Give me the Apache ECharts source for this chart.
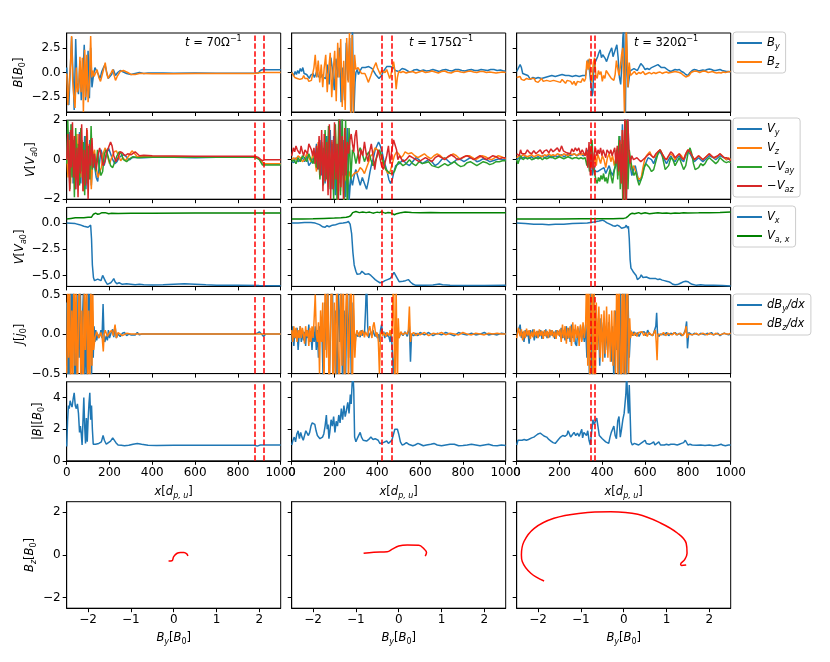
<!DOCTYPE html>
<html lang="en">
<head>
<meta charset="UTF-8">
<title>Shock profiles</title>
<script src="https://cdn.jsdelivr.net/npm/echarts@6/dist/echarts.min.js"></script>
<style>body{margin:0;background:#fff}</style>
</head>
<body>
<div id="main" style="width:830px;height:662px"></div>
<script>
// ---- data ----
var timeLabels = ['70', '175', '320'];
var dashX = [[880, 920], [420, 466], [348, 367]];

// t = 70
var by1 = [[0,0.5],[5,0.4],[10,-3.3],[18,-3.5],[23,3.6],[30,-0.5],[35,-3.8],[42,3.4],[48,-1],[55,-2.2],[62,1.2],[68,-2.8],[75,-0.5],[82,2.8],[88,-2.8],[94,-1],[100,2.2],[106,-2.6],[112,2.5],[118,-1.5],[125,-0.3],[132,0.5],[140,0.4],[148,-0.2],[156,-0.6],[164,0.1],[172,0.5],[179,0.8],[186,0.1],[194,-0.6],[202,-0.8],[210,-0.2],[218,0.3],[228,-0.3],[238,0.0],[250,0.2],[265,0.05],[280,-0.1],[300,-0.2],[320,-0.1],[340,0.0],[360,-0.1],[380,-0.05],[400,-0.05],[450,-0.05],[500,-0.08],[600,-0.06],[700,-0.07],[800,-0.07],[880,-0.06],[895,-0.05],[905,0.2],[915,0.3],[940,0.28],[1000,0.28]];
var bz1 = [[0,-0.1],[5,-3.3],[12,-3.2],[18,1.0],[23,3.7],[28,-0.8],[33,-2.3],[39,-3.6],[45,0.5],[50,-2],[56,-1.5],[62,1.6],[67,-2.0],[73,1.5],[78,-4],[84,2.3],[89,-2.5],[94,1.8],[100,-3],[106,-1],[112,3.7],[117,-0.5],[122,0.2],[128,-0.4],[135,-0.6],[142,0.3],[150,-0.5],[158,-0.9],[165,-0.3],[172,0.3],[180,1.0],[187,-0.1],[193,-0.6],[200,-0.4],[208,0.0],[215,0.3],[222,-0.3],[228,-0.8],[236,-0.4],[250,0.1],[265,0.2],[285,0.0],[300,-0.2],[320,-0.2],[340,-0.1],[360,-0.1],[400,-0.12],[500,-0.12],[600,-0.1],[700,-0.1],[880,-0.1],[900,-0.02],[920,0.0],[1000,0.0]];
var vy1 = [[0,-0.1],[5,1.2],[10,-0.3],[15,1.4],[20,-0.8],[25,1.8],[30,-1.2],[36,1.0],[42,-1.5],[48,0.8],[55,-1.0],[60,1.4],[66,-1.2],[72,0.6],[78,-0.8],[84,1.2],[90,-1.5],[96,0.5],[102,-0.8],[108,1.0],[115,-1.3],[122,0.3],[130,-0.3],[138,-0.9],[145,-1.1],[152,-0.3],[160,0.5],[168,0.2],[175,-0.3],[185,0.2],[195,0.6],[205,0.3],[215,0.0],[225,-0.2],[235,-0.1],[245,0.1],[255,0.2],[265,0.25],[275,0.2],[285,0.05],[295,0.0],[305,0.1],[320,0.12],[340,0.1],[360,0.1],[400,0.12],[500,0.12],[600,0.1],[700,0.12],[800,0.12],[880,0.12],[900,0.05],[920,-0.2],[1000,-0.22]];
var vz1 = [[0,0.2],[6,-0.9],[12,1.0],[18,-1.2],[24,0.7],[30,-0.5],[36,1.2],[42,-0.7],[48,1.3],[54,-1.4],[60,0.6],[66,-0.9],[72,1.0],[78,-1.6],[84,0.4],[90,-0.6],[96,1.5],[102,-1.0],[108,0.6],[115,-1.5],[122,0.2],[130,0.5],[138,-0.4],[146,-0.9],[155,-1.0],[162,-0.4],[170,0.3],[180,0.6],[190,0.2],[200,-0.2],[210,0.1],[222,0.4],[232,0.45],[242,0.2],[252,-0.05],[262,0.1],[275,-0.05],[290,0.2],[305,0.45],[318,0.3],[330,0.15],[360,0.15],[400,0.15],[880,0.15],[905,0.0],[920,-0.2],[1000,-0.2]];
var vay1 = [[0,-0.2],[5,2.0],[10,0.3],[15,-1.5],[20,1.8],[25,-0.9],[30,1.0],[36,-1.9],[42,1.6],[48,-1.0],[54,0.8],[60,-1.3],[66,1.6],[72,-0.6],[78,0.9],[84,-1.8],[90,1.2],[96,-1.2],[102,0.7],[108,-1.0],[114,1.7],[120,-0.5],[128,0.3],[136,-0.6],[144,0.5],[152,-0.4],[160,-0.8],[168,-0.6],[176,0.3],[185,0.5],[195,0.1],[205,-0.3],[215,-0.4],[225,-0.1],[235,0.2],[245,0.4],[255,0.3],[265,0.0],[280,-0.1],[295,0.05],[310,0.15],[330,0.1],[360,0.12],[400,0.13],[880,0.13],[900,0.0],[915,-0.27],[1000,-0.27]];
var vaz1 = [[0,0.0],[5,1.3],[10,1.4],[14,-1.6],[18,1.5],[22,-0.4],[27,1.9],[32,-0.9],[37,1.2],[42,-1.5],[48,0.6],[53,-1.9],[58,1.3],[64,-0.7],[70,1.8],[76,-1.6],[82,0.5],[88,-1.3],[94,1.6],[100,-2.0],[106,0.8],[112,-0.3],[118,1.1],[124,-0.4],[130,0.3],[138,-0.5],[146,0.2],[154,0.6],[162,0.2],[170,-0.3],[178,-0.1],[186,0.4],[195,0.6],[205,0.9],[212,0.7],[220,0.2],[230,-0.1],[240,0.1],[250,0.4],[260,0.35],[272,0.2],[285,0.3],[300,0.25],[320,0.4],[340,0.2],[360,0.22],[400,0.2],[600,0.18],[880,0.18],[895,0.12],[905,0.02],[915,-0.05],[925,0.0],[1000,0.0]];
var vx1 = [[0,0.0],[20,-0.02],[40,-0.05],[60,-0.15],[80,-0.3],[100,-0.4],[108,-0.45],[112,-0.2],[116,-1.5],[120,-4.0],[125,-5.2],[130,-5.5],[138,-5.5],[145,-5.35],[152,-5.25],[160,-5.5],[168,-5.0],[175,-4.95],[182,-5.6],[190,-5.85],[198,-5.75],[206,-5.7],[214,-5.5],[220,-5.3],[226,-5.6],[234,-5.8],[245,-5.7],[260,-5.85],[280,-5.8],[300,-5.85],[320,-5.9],[340,-5.85],[360,-5.9],[400,-5.92],[450,-5.9],[500,-5.85],[550,-5.8],[600,-5.85],[650,-5.9],[700,-5.93],[800,-5.95],[900,-5.97],[1000,-5.98]];
var vax1 = [[0,0.4],[20,0.45],[40,0.5],[60,0.5],[80,0.5],[100,0.55],[115,0.55],[125,0.85],[135,0.95],[145,0.85],[155,0.9],[165,1.0],[172,0.9],[180,1.0],[188,0.85],[196,0.9],[210,0.95],[240,0.92],[300,0.95],[400,0.95],[600,0.97],[800,0.96],[1000,0.96]];
var dby1 = [[0,0.4],[6,-0.6],[10,0.2],[15,-0.8],[21,0.7],[26,-0.2],[31,0.8],[37,-0.7],[42,0.1],[47,-0.9],[53,0.5],[58,-0.3],[63,0.8],[69,-0.7],[74,0.2],[80,0.7],[85,-0.6],[90,0.1],[96,-0.8],[101,0.6],[106,-0.2],[111,0.9],[116,-0.6],[120,0.3],[124,-0.3],[128,0.1],[132,-0.1],[136,0.05],[140,-0.08],[145,0.0],[150,-0.05],[155,-0.02],[160,0.05],[165,-0.05],[170,0.38],[174,0.0],[178,-0.1],[185,-0.02],[190,-0.08],[195,0.05],[200,-0.05],[208,0.02],[215,0.06],[220,-0.04],[226,0.1],[232,-0.05],[240,0.0],[250,-0.03],[260,0.01],[270,0.02],[280,-0.02],[290,0.0],[300,-0.01],[320,-0.01],[330,0.02],[340,-0.01],[350,0.0],[400,0.0],[500,0.0],[880,0.0],[890,0.01],[900,0.03],[910,0.0],[920,-0.03],[930,0.0],[1000,0.0]];
var dbz1 = [[0,-0.5],[5,0.7],[9,-0.3],[14,0.6],[19,-0.9],[24,0.3],[29,-0.6],[34,0.9],[39,-0.4],[44,0.6],[50,-0.9],[55,0.2],[60,0.8],[66,-0.6],[71,0.3],[77,-0.9],[82,0.6],[87,-0.2],[93,0.9],[98,-0.7],[103,0.3],[108,-0.8],[113,0.7],[118,-0.4],[122,0.5],[126,-0.2],[132,-0.05],[140,0.03],[150,-0.05],[160,0.02],[166,-0.05],[171,-0.22],[175,0.0],[180,0.05],[190,-0.03],[200,0.02],[210,0.05],[218,-0.02],[226,0.12],[232,-0.05],[240,0.02],[260,-0.02],[280,0.01],[300,0.0],[340,0.0],[1000,0.0]];
var absb1 = [[0,0.9],[4,2.5],[8,3.5],[12,3.3],[16,3.8],[20,3.6],[25,3.4],[30,3.9],[35,4.3],[40,3.5],[45,3.3],[50,3.6],[55,3.0],[60,1.8],[64,2.2],[68,1.7],[72,1.0],[76,2.5],[80,4.0],[84,2.2],[88,1.1],[92,2.7],[96,1.2],[100,2.6],[104,3.6],[108,4.3],[112,2.6],[116,3.5],[120,2.0],[124,1.05],[135,1.05],[150,1.1],[162,1.2],[170,1.6],[176,1.3],[185,1.05],[195,1.15],[205,1.25],[215,1.45],[222,1.5],[230,1.15],[240,1.0],[255,0.98],[270,0.95],[290,0.98],[310,1.05],[330,1.1],[350,1.05],[380,0.98],[420,0.97],[500,0.98],[600,0.98],[700,0.99],[880,0.98],[890,0.93],[905,1.0],[1000,1.0]];
var hodo1 = [[-0.12,-0.28],[-0.04,-0.27],[0.0,-0.08],[0.08,0.08],[0.16,0.12],[0.24,0.12],[0.31,0.04],[0.33,-0.05]];

// t = 175
var by2 = [[0,0.0],[10,-0.3],[16,0.1],[22,-0.2],[28,0.2],[34,-0.1],[40,0.4],[46,0.1],[52,0.5],[58,-0.1],[64,-0.3],[70,-0.2],[76,-0.4],[82,-0.6],[88,-0.3],[94,-0.4],[100,-0.1],[106,-0.5],[112,-0.2],[118,0.2],[124,-0.4],[130,-0.3],[136,-0.5],[142,-0.2],[148,-0.5],[154,-0.3],[160,-0.6],[167,0.8],[175,-1.2],[183,1.5],[191,0.2],[199,-1.8],[207,1.4],[215,-0.5],[223,2.5],[231,-3.0],[239,0.5],[247,-2.8],[255,3.0],[263,-0.8],[271,3.5],[278,-4.5],[284,4.5],[290,-4.5],[296,-1.0],[300,0.0],[306,0.3],[312,-0.2],[320,0.2],[328,0.5],[336,0.3],[344,0.5],[352,0.4],[360,0.6],[368,0.7],[376,0.4],[384,0.2],[392,-0.2],[400,-0.4],[408,-0.6],[414,-0.4],[420,-0.3],[428,0.1],[436,0.3],[444,0.6],[452,0.4],[460,0.6],[468,0.5],[476,0.5],[484,0.2],[492,0.3],[500,0.1],[508,0.1],[516,0.4],[524,0.5],[532,0.3],[540,0.2],[550,0.05],[560,0.1],[570,0.25],[585,0.3],[600,0.15],[615,0.25],[630,0.15],[645,0.2],[660,0.3],[675,0.2],[690,0.1],[705,0.25],[720,0.3],[735,0.2],[750,0.15],[765,0.3],[780,0.3],[795,0.2],[810,0.15],[825,0.25],[840,0.3],[855,0.2],[870,0.2],[885,0.3],[900,0.25],[915,0.2],[930,0.3],[945,0.3],[960,0.2],[975,0.25],[990,0.15],[1000,0.15]];
var bz2 = [[0,0.0],[8,-0.2],[14,-0.5],[20,-0.3],[26,-0.6],[32,-0.4],[38,-0.7],[44,-0.5],[50,-0.6],[56,-0.3],[62,-0.6],[68,-0.8],[74,-0.6],[80,-0.9],[86,-0.7],[92,-0.8],[98,-0.9],[104,0.5],[110,1.8],[117,-0.5],[124,1.2],[131,-1.0],[138,0.8],[145,-1.5],[152,0.5],[159,1.8],[166,-2.0],[173,0.4],[180,2.0],[187,-2.5],[194,0.2],[201,2.2],[208,-2.9],[215,3.0],[222,-0.5],[229,3.4],[236,-3.5],[243,1.2],[250,-3.8],[257,3.5],[264,-1.0],[270,4.0],[276,-4.5],[282,3.8],[288,-4.5],[294,1.8],[300,0.3],[310,0.5],[318,0.2],[326,-0.1],[334,-0.3],[342,-0.1],[350,-0.5],[358,-1.0],[364,-0.8],[370,-0.3],[378,0.2],[386,0.6],[394,1.0],[400,0.5],[408,0.1],[414,-0.2],[420,0.2],[428,0.3],[436,0.0],[444,0.3],[452,-0.2],[458,-0.6],[464,-0.2],[470,0.5],[476,1.1],[482,0.2],[488,-1.7],[494,-0.5],[500,0.1],[510,0.0],[520,0.1],[535,-0.05],[550,0.05],[565,0.1],[580,-0.05],[595,0.05],[610,0.15],[625,0.0],[640,0.05],[655,0.15],[670,0.05],[685,-0.05],[700,0.1],[715,0.15],[730,0.0],[745,-0.05],[760,0.1],[775,0.15],[790,0.05],[805,0.0],[820,0.1],[835,0.15],[850,0.05],[865,0.0],[880,0.1],[895,0.1],[910,0.0],[925,0.05],[940,0.0],[955,-0.05],[970,0.0],[985,0.05],[1000,0.0]];
var vy2 = [[0,-0.1],[10,-0.15],[20,0.1],[30,-0.1],[40,0.0],[50,0.1],[60,-0.1],[70,0.2],[80,-0.3],[90,-0.15],[100,0.1],[108,-0.2],[116,0.8],[124,-0.5],[132,1.0],[140,-0.8],[148,0.6],[156,-1.2],[164,1.2],[172,-0.8],[180,1.5],[188,-1.5],[196,1.2],[204,-1.8],[212,0.8],[220,-1.2],[228,2.0],[236,-0.8],[244,1.0],[252,-1.9],[260,1.6],[268,-2.1],[276,-0.9],[284,-1.3],[292,-0.8],[300,-0.5],[310,-0.9],[320,-1.3],[330,-0.9],[340,-1.2],[350,-1.5],[358,-1.1],[366,-0.6],[374,-0.2],[382,0.1],[390,0.5],[398,0.5],[406,0.9],[414,0.7],[422,0.4],[430,0.0],[438,-0.3],[446,-0.6],[454,-1.0],[462,-1.2],[470,-1.0],[478,-0.6],[486,-0.3],[494,-0.4],[502,-0.2],[510,-0.1],[520,0.0],[535,-0.2],[550,-0.3],[565,-0.1],[580,0.1],[595,0.0],[610,-0.2],[625,-0.1],[640,0.0],[655,-0.1],[670,-0.3],[685,-0.2],[700,0.0],[715,0.1],[730,-0.05],[745,-0.2],[760,-0.1],[775,0.05],[790,0.0],[805,-0.1],[820,0.0],[835,0.1],[850,0.05],[865,-0.1],[880,-0.05],[895,0.05],[910,0.0],[925,-0.1],[940,-0.05],[955,0.0],[970,0.05],[985,0.0],[1000,0.0]];
var vz2 = [[0,0.0],[10,0.1],[20,0.0],[30,0.2],[40,0.1],[50,-0.1],[60,0.0],[70,0.3],[80,0.1],[90,-0.1],[100,0.3],[108,0.0],[116,-0.6],[124,0.9],[132,-0.4],[140,0.7],[148,-1.0],[156,0.5],[164,-0.7],[172,1.1],[180,-0.8],[188,0.9],[196,-1.4],[204,1.5],[212,-0.9],[220,1.3],[228,-1.6],[236,0.7],[244,-1.2],[252,-0.8],[260,-1.3],[268,-0.6],[276,-0.9],[284,-0.8],[292,-0.7],[300,-0.8],[310,-0.6],[320,-0.4],[330,-0.5],[340,-0.7],[350,-0.4],[360,-0.1],[370,0.2],[380,0.3],[390,0.6],[400,0.5],[410,0.4],[420,0.1],[430,-0.3],[440,-0.5],[450,-0.7],[460,-0.6],[470,-0.2],[480,0.2],[490,0.4],[500,0.3],[510,0.1],[520,0.2],[530,0.4],[545,0.3],[560,0.35],[575,0.2],[590,0.1],[605,0.2],[620,0.3],[635,0.15],[650,0.05],[665,0.2],[680,0.3],[695,0.2],[710,0.05],[725,0.1],[740,0.2],[755,0.3],[770,0.2],[785,0.05],[800,0.1],[815,0.2],[830,0.2],[845,0.1],[860,0.0],[875,0.1],[890,0.2],[905,0.15],[920,0.05],[935,0.0],[950,0.1],[965,0.2],[980,0.15],[1000,0.05]];
var vay2 = [[0,-0.1],[10,0.0],[20,-0.2],[30,0.1],[40,-0.1],[50,0.2],[60,0.1],[70,-0.1],[80,0.3],[90,0.0],[100,-0.2],[108,0.3],[116,-0.4],[124,0.6],[132,-1.0],[140,0.9],[148,-1.3],[156,1.5],[164,-1.0],[172,1.7],[180,-1.5],[188,0.8],[196,-2.0],[204,1.8],[212,-2.2],[220,2.2],[228,-1.8],[236,2.4],[244,-2.5],[252,2.0],[260,-2.5],[268,1.6],[276,-1.0],[284,0.5],[292,0.3],[300,-0.2],[310,0.3],[320,0.6],[330,0.3],[340,-0.1],[350,0.2],[360,0.4],[370,0.0],[380,-0.3],[390,-0.1],[400,0.2],[410,0.5],[420,0.2],[430,-0.2],[440,-0.5],[450,-0.6],[460,-0.7],[470,-0.7],[480,-0.6],[490,-0.3],[500,-0.1],[510,-0.2],[520,-0.3],[535,-0.2],[550,0.0],[565,-0.2],[580,-0.3],[595,-0.1],[610,-0.2],[625,-0.15],[640,-0.1],[655,-0.3],[670,-0.35],[685,-0.4],[700,-0.3],[715,-0.2],[730,-0.3],[745,-0.2],[760,-0.1],[775,-0.25],[790,-0.35],[805,-0.3],[820,-0.15],[835,-0.1],[850,-0.2],[865,-0.3],[880,-0.2],[895,-0.1],[910,-0.15],[925,-0.25],[940,-0.2],[955,-0.1],[970,-0.1],[985,-0.05],[1000,-0.05]];
var vaz2 = [[0,0.2],[8,0.6],[14,0.4],[20,0.7],[26,0.5],[32,0.6],[38,0.3],[44,0.7],[50,0.4],[56,0.2],[62,0.5],[68,0.6],[74,0.3],[80,0.8],[86,0.9],[92,0.5],[98,0.2],[104,0.6],[110,-0.2],[116,0.7],[122,-0.5],[128,1.2],[134,-0.8],[140,1.5],[146,-1.6],[152,1.3],[158,-1.1],[164,0.9],[170,-1.8],[176,1.8],[182,-2.0],[188,1.0],[194,-1.5],[200,1.9],[206,-1.0],[212,0.8],[218,-2.2],[224,2.2],[230,-1.4],[236,1.2],[242,-2.0],[248,1.6],[254,-0.8],[260,0.9],[266,0.3],[272,1.0],[278,1.3],[284,0.8],[290,0.4],[296,1.2],[302,1.5],[308,0.6],[316,-0.2],[324,0.5],[332,0.2],[340,0.9],[348,0.3],[356,-0.1],[364,0.4],[372,0.8],[380,0.2],[388,-0.5],[396,0.1],[404,0.5],[412,0.1],[420,-0.3],[428,-0.5],[436,-0.4],[444,0.2],[452,0.7],[460,-0.2],[468,0.5],[476,1.0],[484,1.1],[490,0.5],[496,0.0],[504,0.2],[512,0.1],[520,-0.1],[535,0.0],[550,0.2],[565,0.1],[580,0.0],[595,-0.1],[610,0.0],[625,0.1],[640,0.0],[655,-0.1],[670,0.1],[685,0.2],[700,0.1],[715,0.0],[730,0.15],[745,0.25],[760,0.15],[775,0.0],[790,0.05],[805,0.15],[820,0.2],[835,0.1],[850,0.0],[865,0.1],[880,0.2],[895,0.1],[910,0.0],[925,0.1],[940,0.2],[955,0.15],[970,0.05],[985,0.1],[1000,0.1]];
var vx2 = [[0,0.0],[30,0.0],[60,0.05],[90,0.05],[110,0.0],[130,-0.15],[145,-0.35],[155,-0.4],[165,-0.25],[175,-0.35],[190,-0.2],[205,-0.15],[220,-0.05],[240,0.0],[255,0.05],[265,0.15],[273,-0.1],[280,-1.0],[286,-2.8],[292,-4.0],[300,-4.6],[306,-4.9],[312,-5.0],[320,-4.85],[328,-4.6],[336,-4.7],[344,-4.9],[352,-5.0],[360,-4.85],[370,-5.0],[380,-5.2],[390,-5.4],[400,-5.55],[412,-5.7],[424,-5.65],[436,-5.5],[448,-5.4],[460,-5.3],[470,-5.0],[478,-4.7],[486,-4.85],[494,-5.3],[502,-5.6],[510,-5.7],[520,-5.55],[532,-5.5],[545,-5.4],[556,-5.65],[568,-5.85],[580,-5.95],[620,-5.95],[660,-5.92],[690,-5.82],[705,-5.9],[740,-5.95],[800,-5.97],[900,-5.96],[1000,-5.95]];
var vax2 = [[0,0.4],[50,0.4],[100,0.42],[150,0.45],[200,0.48],[230,0.5],[255,0.55],[265,0.6],[275,0.7],[285,1.0],[292,1.15],[300,1.1],[308,0.95],[316,1.0],[324,0.9],[332,1.05],[340,1.15],[348,1.0],[356,0.95],[364,1.05],[372,1.0],[380,0.95],[390,1.0],[400,1.05],[410,1.0],[420,1.08],[430,1.0],[440,0.95],[450,1.02],[460,1.0],[470,0.9],[480,0.8],[490,0.9],[500,0.95],[510,1.0],[530,1.05],[560,1.02],[600,1.0],[650,1.02],[700,0.98],[800,1.0],[900,1.0],[1000,1.0]];
var dby2 = [[0,-0.1],[5,0.1],[10,-0.15],[15,0.05],[20,-0.05],[25,0.08],[30,-0.2],[35,0.0],[40,0.1],[45,-0.1],[50,0.05],[55,-0.08],[60,0.03],[65,-0.15],[70,0.05],[75,-0.05],[80,0.12],[85,-0.1],[90,0.0],[95,-0.2],[100,0.05],[105,-0.1],[110,0.1],[115,-0.2],[120,0.05],[125,-0.3],[130,0.1],[135,-0.05],[140,0.2],[147,-0.6],[154,0.4],[161,-0.2],[168,0.8],[175,-0.7],[182,0.1],[189,0.9],[196,-0.5],[203,0.3],[210,-0.9],[217,0.6],[224,-0.1],[231,0.8],[238,-0.8],[245,0.3],[252,-0.6],[259,0.9],[266,-0.3],[273,0.5],[280,-0.9],[287,0.4],[294,-0.2],[300,0.0],[305,0.02],[310,-0.03],[315,0.02],[320,-0.04],[325,0.05],[330,-0.02],[335,0.03],[340,0.0],[345,0.3],[350,0.7],[355,0.1],[360,-0.05],[365,0.0],[370,0.03],[375,-0.02],[380,0.05],[385,0.0],[390,-0.03],[395,0.02],[400,-0.05],[405,0.0],[410,-0.1],[415,0.05],[420,0.12],[425,0.0],[430,0.03],[435,-0.05],[440,0.02],[445,-0.03],[450,0.0],[455,-0.04],[460,-0.1],[465,0.02],[470,-0.2],[475,-0.5],[480,-0.3],[485,0.1],[490,-0.1],[495,0.05],[500,-0.05],[510,0.02],[520,-0.02],[530,0.03],[540,-0.03],[550,0.1],[555,-0.35],[560,0.0],[570,-0.02],[580,0.01],[590,-0.02],[600,0.02],[620,-0.01],[640,0.02],[660,-0.02],[680,0.01],[700,-0.01],[720,0.02],[740,0.0],[760,-0.02],[780,0.02],[800,0.0],[820,-0.01],[840,0.01],[860,-0.01],[880,0.0],[900,0.02],[920,-0.01],[940,0.0],[960,-0.01],[980,0.01],[1000,0.0]];
var dbz2 = [[0,0.05],[5,-0.1],[10,0.1],[15,-0.05],[20,0.08],[25,-0.1],[30,0.05],[35,-0.05],[40,0.1],[45,-0.05],[50,0.08],[55,0.0],[60,-0.12],[65,0.1],[70,-0.03],[75,0.05],[80,-0.15],[85,0.08],[90,-0.1],[95,0.1],[100,-0.05],[105,0.2],[110,0.5],[115,0.0],[120,-0.1],[125,0.15],[130,-0.5],[135,0.3],[140,-0.1],[145,0.4],[151,-0.7],[157,0.9],[163,-0.3],[169,0.6],[175,-0.9],[181,0.2],[187,0.9],[193,-0.8],[199,0.4],[205,-0.6],[211,0.9],[217,-0.2],[223,-0.9],[229,0.7],[235,-0.4],[241,0.9],[247,-0.9],[253,0.3],[259,0.8],[265,-0.7],[271,0.2],[277,0.9],[283,-0.9],[289,0.5],[295,-0.3],[300,-0.02],[305,0.05],[310,0.0],[315,-0.03],[320,0.04],[325,-0.02],[330,0.05],[335,0.02],[340,-0.04],[345,0.03],[350,0.0],[355,-0.03],[360,0.05],[365,0.1],[370,0.02],[375,-0.05],[380,0.1],[385,0.15],[390,0.05],[395,-0.03],[400,0.02],[405,-0.1],[410,-0.5],[415,0.0],[420,0.05],[425,-0.02],[430,0.02],[435,0.0],[440,-0.03],[445,0.02],[450,0.0],[455,-0.02],[460,0.05],[465,-0.03],[470,0.1],[476,0.8],[482,-0.8],[488,0.6],[494,-0.7],[498,0.2],[502,-0.05],[510,0.03],[520,-0.01],[530,0.02],[540,0.0],[545,0.05],[550,0.35],[555,-0.1],[560,0.0],[570,0.02],[580,-0.02],[590,0.01],[600,-0.01],[620,0.02],[640,-0.02],[660,0.01],[680,0.0],[700,0.02],[720,-0.01],[740,0.01],[760,0.0],[780,-0.01],[800,0.02],[820,0.0],[840,-0.01],[860,0.01],[880,0.0],[900,-0.01],[920,0.01],[940,0.0],[960,0.01],[980,0.0],[1000,0.0]];
var absb2 = [[0,1.0],[6,1.3],[12,1.5],[18,1.2],[24,1.7],[30,1.9],[36,1.4],[42,1.8],[48,1.5],[54,1.3],[60,1.6],[66,1.9],[72,2.0],[78,1.6],[84,1.8],[90,2.2],[96,2.4],[102,2.5],[108,2.3],[114,1.9],[120,1.6],[126,1.5],[132,1.4],[138,1.3],[144,1.5],[150,1.7],[156,2.2],[162,2.9],[166,2.0],[170,2.3],[174,1.4],[178,1.8],[184,2.6],[190,2.2],[196,2.8],[202,1.8],[208,2.5],[214,2.2],[220,2.9],[226,2.4],[232,3.3],[238,2.6],[244,3.5],[250,2.8],[256,3.2],[262,3.7],[268,3.0],[274,4.2],[278,3.6],[282,4.8],[286,5.5],[290,4.5],[294,1.5],[300,1.2],[306,1.4],[312,1.5],[320,1.8],[326,1.5],[334,1.3],[342,1.2],[350,1.25],[360,1.35],[370,1.5],[380,1.35],[390,1.4],[396,1.5],[404,1.3],[412,1.1],[420,1.0],[428,1.15],[436,1.2],[444,1.25],[452,1.1],[460,1.2],[468,1.3],[476,1.4],[482,2.0],[488,1.9],[494,2.0],[500,1.7],[508,1.2],[516,1.0],[526,1.05],[536,1.15],[546,1.05],[556,1.0],[566,0.95],[576,1.0],[590,1.1],[600,1.05],[615,0.95],[630,1.0],[650,1.05],[665,1.1],[680,1.0],[700,0.95],[720,1.0],[740,1.05],[760,1.05],[780,0.95],[800,0.97],[820,1.0],[840,1.05],[860,1.0],[880,0.95],[900,1.0],[920,1.05],[940,0.97],[960,0.95],[980,1.0],[1000,0.97]];
var hodo2 = [[-0.82,0.08],[-0.58,0.13],[-0.27,0.15],[-0.15,0.27],[0.0,0.42],[0.2,0.47],[0.47,0.45],[0.58,0.31],[0.65,0.11],[0.62,-0.05]];

// t = 320
var by3 = [[0,0.1],[8,0.2],[16,0.8],[22,0.5],[28,-0.1],[34,-0.3],[40,-0.2],[46,-0.4],[52,-0.3],[58,-0.5],[64,-0.7],[70,-0.8],[76,-0.5],[82,-0.4],[88,-0.6],[94,-0.4],[100,-0.5],[108,-0.3],[116,-0.6],[124,-0.4],[132,-0.5],[140,-0.6],[148,-0.4],[156,-0.5],[164,-0.3],[172,-0.5],[180,-0.4],[188,-0.6],[196,-0.3],[204,-0.4],[212,-0.2],[220,-0.4],[228,-0.3],[236,-0.1],[244,-0.3],[252,-0.2],[260,-0.4],[268,-0.2],[276,-0.3],[284,-0.3],[292,-0.4],[300,-0.2],[308,-0.3],[316,-0.2],[322,-0.3],[328,0.5],[334,1.3],[340,0.2],[346,-1.0],[352,-2.4],[356,-2.0],[360,0.3],[366,1.0],[372,0.8],[378,1.6],[384,2.0],[390,2.3],[396,1.5],[402,1.8],[408,2.0],[414,1.4],[420,1.1],[426,1.5],[432,1.9],[438,2.2],[444,2.5],[450,1.6],[456,2.0],[462,2.4],[468,2.8],[474,1.5],[480,-0.5],[486,-1.2],[492,1.0],[496,3.5],[500,4.5],[504,-1.0],[508,-4.5],[512,4.5],[516,1.0],[520,-1.5],[526,-0.5],[532,0.2],[540,0.3],[548,0.4],[556,0.5],[564,0.2],[572,0.4],[580,0.9],[586,1.0],[592,0.6],[600,0.3],[610,0.4],[620,0.3],[630,0.5],[640,0.6],[650,0.7],[660,0.8],[668,0.6],[676,0.5],[684,0.55],[692,0.5],[700,0.3],[710,0.2],[720,0.1],[730,0.2],[740,0.3],[750,0.25],[760,0.3],[770,0.1],[780,0.0],[790,-0.2],[800,-0.3],[810,0.0],[820,0.2],[830,0.3],[840,0.25],[850,0.15],[860,0.2],[870,0.25],[880,0.2],[890,0.3],[900,0.35],[910,0.3],[920,0.2],[930,0.2],[940,0.25],[950,0.3],[960,0.2],[970,0.15],[980,0.1],[990,0.1],[1000,0.05]];
var bz3 = [[0,-0.5],[8,-0.6],[16,-0.4],[22,-0.7],[28,-0.5],[34,-0.8],[40,-0.9],[46,-0.6],[52,-0.5],[58,-0.7],[64,-0.5],[70,-0.6],[76,-0.8],[82,-0.6],[88,-0.9],[94,-0.7],[100,-1.0],[108,-0.8],[116,-0.6],[124,-0.9],[132,-0.7],[140,-0.8],[148,-0.6],[156,-0.9],[164,-0.7],[172,-0.8],[180,-0.6],[188,-0.9],[196,-0.8],[204,-1.0],[212,-0.7],[220,-0.9],[228,-1.1],[236,-0.8],[244,-1.0],[252,-0.9],[260,-1.2],[268,-0.9],[276,-1.3],[284,-0.9],[292,-0.8],[300,-1.0],[308,-0.6],[316,-0.9],[322,-0.6],[328,1.2],[334,0.3],[340,1.4],[346,-0.5],[352,-1.0],[358,1.0],[364,1.5],[370,-0.3],[376,-0.6],[382,0.2],[388,-0.2],[394,0.1],[400,-0.9],[406,-0.3],[412,-0.6],[418,0.2],[424,0.4],[430,-0.2],[436,0.0],[442,-0.6],[448,-0.4],[454,-0.8],[460,-0.2],[466,1.2],[472,0.4],[478,-0.3],[484,0.5],[490,1.8],[496,2.5],[500,-1.0],[504,-4.5],[508,0.5],[512,4.5],[516,2.0],[520,-1.5],[526,1.0],[532,-0.3],[540,-0.1],[550,0.1],[560,-0.2],[570,0.0],[580,-0.1],[590,0.1],[600,-0.2],[610,-0.1],[620,0.0],[630,-0.15],[640,0.0],[650,-0.1],[660,0.0],[670,0.05],[680,-0.1],[690,0.0],[700,0.05],[710,-0.05],[720,0.0],[730,0.05],[740,0.1],[750,0.05],[760,0.0],[770,-0.1],[780,-0.3],[790,-0.45],[798,-0.6],[806,-0.3],[815,0.0],[825,0.1],[835,0.15],[845,0.1],[855,0.0],[865,0.1],[875,0.15],[885,0.1],[895,0.0],[905,0.05],[915,0.1],[925,0.0],[935,-0.05],[945,0.0],[955,-0.05],[965,0.05],[975,0.0],[985,0.05],[1000,0.1]];
var vy3 = [[0,0.0],[10,0.1],[20,0.05],[30,0.1],[40,0.15],[50,0.05],[60,0.1],[70,0.15],[80,0.05],[90,0.1],[100,0.15],[110,0.1],[120,0.2],[130,0.1],[140,0.15],[150,0.2],[160,0.1],[170,0.15],[180,0.2],[190,0.15],[200,0.2],[210,0.25],[220,0.15],[230,0.2],[240,0.3],[250,0.2],[260,0.25],[270,0.3],[280,0.2],[290,0.25],[300,0.3],[310,0.2],[320,0.25],[330,0.5],[336,0.1],[342,-0.6],[348,0.2],[354,-0.8],[360,-0.3],[366,-0.6],[372,-0.7],[378,-0.6],[384,-0.7],[392,-0.5],[400,-0.6],[408,-0.4],[416,-0.7],[424,-0.5],[432,-0.3],[440,-0.6],[448,-0.8],[456,-0.5],[464,-0.3],[470,0.3],[476,-0.5],[482,1.2],[488,-1.0],[494,1.8],[500,-1.5],[506,2.5],[512,-2.5],[518,2.5],[524,0.5],[530,-0.3],[538,-0.8],[546,-0.5],[554,-0.3],[562,-0.7],[570,-1.1],[576,-1.2],[582,-1.0],[590,-0.6],[598,-0.3],[606,-0.1],[614,0.1],[622,0.2],[630,0.0],[640,-0.2],[650,0.1],[660,0.3],[670,0.4],[680,0.2],[690,0.0],[700,-0.2],[710,0.0],[720,0.2],[730,0.0],[740,-0.1],[750,0.1],[760,0.2],[770,0.0],[780,-0.1],[790,0.2],[800,0.4],[810,0.3],[820,0.1],[830,-0.1],[840,0.0],[850,0.1],[860,0.0],[870,-0.1],[880,0.0],[890,0.1],[900,0.2],[910,0.15],[920,0.1],[930,0.0],[940,0.1],[950,0.2],[960,0.15],[970,0.1],[980,0.0],[990,0.05],[1000,0.0]];
var vz3 = [[0,0.1],[10,0.2],[20,0.15],[30,0.25],[40,0.2],[50,0.15],[60,0.2],[70,0.25],[80,0.15],[90,0.2],[100,0.25],[110,0.2],[120,0.15],[130,0.25],[140,0.2],[150,0.3],[160,0.2],[170,0.25],[180,0.2],[190,0.3],[200,0.25],[210,0.2],[220,0.3],[230,0.25],[240,0.2],[250,0.3],[260,0.25],[270,0.3],[280,0.2],[290,0.3],[300,0.25],[310,0.3],[320,0.2],[330,0.4],[336,-0.2],[342,0.5],[348,-0.4],[354,0.3],[360,-0.2],[366,0.2],[372,-0.3],[378,0.3],[384,0.1],[392,-0.2],[400,0.2],[408,0.0],[416,-0.4],[424,0.1],[432,0.3],[440,-0.1],[448,0.2],[456,-0.3],[464,0.1],[470,0.6],[476,-0.8],[482,0.9],[488,-1.2],[494,1.5],[500,-1.0],[506,2.0],[512,-1.8],[518,1.5],[524,0.2],[530,-0.1],[538,-0.5],[546,-0.3],[554,-0.2],[562,-0.8],[570,-1.0],[576,-1.1],[582,-0.9],[590,-0.4],[598,0.0],[606,0.2],[614,0.3],[622,0.4],[630,0.2],[640,0.1],[650,0.2],[660,0.4],[670,0.5],[680,0.3],[690,0.1],[700,0.0],[710,0.2],[720,0.3],[730,0.2],[740,0.0],[750,0.2],[760,0.3],[770,0.2],[780,0.0],[790,0.3],[800,0.5],[810,0.4],[820,0.2],[830,0.0],[840,0.1],[850,0.2],[860,0.1],[870,0.0],[880,0.1],[890,0.2],[900,0.3],[910,0.2],[920,0.1],[930,0.1],[940,0.2],[950,0.3],[960,0.2],[970,0.1],[980,0.0],[990,0.1],[1000,0.0]];
var vay3 = [[0,0.0],[6,-0.2],[12,-0.3],[18,0.2],[24,0.1],[30,0.0],[40,0.1],[50,0.05],[60,0.1],[70,0.0],[80,0.05],[90,0.1],[100,0.05],[110,0.1],[120,0.0],[130,0.1],[140,0.05],[150,0.1],[160,0.15],[170,0.1],[180,0.05],[190,0.1],[200,0.15],[210,0.1],[220,0.05],[230,0.1],[240,0.15],[250,0.1],[260,0.05],[270,0.1],[280,0.1],[290,0.05],[300,0.1],[310,0.05],[320,0.1],[328,-0.3],[334,0.2],[340,-0.6],[346,0.5],[352,1.0],[358,-0.3],[364,-0.7],[370,-1.0],[376,-1.2],[382,-0.9],[388,-1.1],[394,-0.8],[400,-1.0],[406,-0.7],[412,-1.1],[418,-0.9],[424,-1.2],[430,-0.8],[436,-0.5],[442,-0.9],[448,-1.2],[454,-0.7],[460,-0.3],[466,0.5],[472,-1.0],[478,1.2],[484,-1.5],[490,0.8],[496,-2.2],[502,1.0],[508,-2.2],[514,2.0],[520,-1.5],[526,0.5],[532,0.0],[540,-0.5],[548,-0.8],[556,-0.6],[564,-1.0],[572,-1.3],[580,-1.2],[588,-0.8],[596,-0.4],[604,-0.2],[612,-0.3],[620,-0.4],[630,-0.6],[640,-0.5],[650,-0.1],[660,0.3],[670,0.5],[678,0.3],[686,-0.1],[694,-0.5],[702,-0.6],[710,-0.3],[720,0.1],[730,0.0],[740,-0.3],[750,-0.1],[760,0.1],[770,-0.2],[780,-0.5],[790,-0.3],[800,0.3],[810,0.6],[818,0.3],[826,-0.2],[834,-0.5],[842,-0.6],[850,-0.4],[860,-0.2],[870,-0.3],[880,-0.2],[890,0.0],[900,0.1],[910,0.0],[920,-0.1],[930,-0.2],[940,-0.1],[950,0.1],[960,0.0],[970,-0.1],[980,-0.15],[990,-0.1],[1000,-0.15]];
var vaz3 = [[0,0.3],[6,0.4],[12,0.2],[18,0.5],[24,0.3],[30,0.4],[40,0.3],[50,0.5],[60,0.35],[70,0.3],[80,0.45],[90,0.3],[100,0.4],[110,0.5],[120,0.3],[130,0.45],[140,0.5],[150,0.35],[160,0.55],[170,0.4],[180,0.5],[190,0.6],[200,0.4],[210,0.7],[218,0.45],[226,0.5],[234,0.35],[242,0.45],[250,0.3],[258,0.55],[266,0.4],[274,0.6],[282,0.45],[290,0.6],[298,0.3],[306,0.5],[314,0.4],[320,0.2],[326,0.6],[332,-0.4],[338,0.9],[344,-0.8],[350,0.7],[356,-0.5],[362,0.3],[368,0.6],[374,0.2],[380,0.5],[386,0.3],[392,0.6],[398,0.2],[404,0.5],[410,0.3],[416,0.1],[422,0.5],[428,0.6],[434,0.3],[440,0.5],[446,0.2],[452,0.4],[458,0.6],[464,-0.2],[470,0.7],[476,-0.6],[482,1.0],[488,-1.2],[494,1.5],[500,-2.5],[506,2.5],[512,-2.5],[518,2.5],[524,0.5],[530,-0.2],[538,0.2],[546,0.0],[554,-0.1],[562,0.1],[570,0.0],[580,-0.1],[590,0.0],[600,0.1],[610,0.2],[620,0.3],[630,0.2],[640,0.1],[650,0.3],[660,0.4],[670,0.5],[680,0.3],[690,0.1],[700,0.0],[710,0.2],[720,0.4],[730,0.3],[740,0.1],[750,0.2],[760,0.3],[770,0.1],[780,0.0],[790,0.3],[800,0.5],[810,0.4],[820,0.2],[830,0.0],[840,0.1],[850,0.2],[860,0.1],[870,0.0],[880,0.1],[890,0.2],[900,0.3],[910,0.2],[920,0.1],[930,0.15],[940,0.2],[950,0.3],[960,0.2],[970,0.1],[980,0.1],[990,0.05],[1000,-0.05]];
var vx3 = [[0,0.0],[40,-0.05],[80,-0.1],[120,-0.12],[150,-0.15],[180,-0.12],[220,-0.1],[260,-0.05],[300,-0.02],[330,0.0],[360,0.1],[385,0.2],[400,0.28],[410,0.2],[420,0.05],[430,-0.05],[440,-0.15],[450,-0.25],[460,-0.3],[470,-0.2],[480,-0.3],[490,-0.5],[498,-0.6],[506,-0.4],[512,-0.2],[518,-0.5],[522,-0.3],[526,-1.5],[530,-3.5],[534,-4.3],[540,-4.5],[546,-4.7],[552,-4.6],[558,-5.0],[564,-5.4],[570,-5.5],[576,-5.2],[582,-4.95],[590,-5.2],[598,-5.35],[606,-5.15],[614,-5.05],[622,-5.3],[630,-5.4],[640,-5.3],[650,-5.3],[660,-5.4],[670,-5.35],[680,-5.45],[690,-5.5],[700,-5.55],[710,-5.6],[720,-5.7],[730,-5.85],[740,-5.9],[750,-5.88],[760,-5.8],[770,-5.7],[780,-5.6],[790,-5.55],[800,-5.6],[810,-5.75],[820,-5.85],[840,-5.95],[860,-5.9],[880,-5.95],[920,-5.95],[960,-5.97],[1000,-6.0]];
var vax3 = [[0,0.4],[100,0.4],[200,0.4],[300,0.42],[400,0.42],[450,0.42],[480,0.45],[500,0.45],[510,0.5],[520,0.65],[530,0.85],[540,0.95],[550,0.9],[560,0.95],[570,1.0],[580,0.9],[590,0.95],[600,0.98],[620,0.9],[640,0.95],[660,1.0],[680,0.95],[700,0.97],[720,0.92],[740,0.97],[760,0.95],[780,1.0],[800,0.97],[850,0.98],[900,1.0],[950,1.02],[1000,1.05]];
var dby3 = [[0,0.0],[8,0.05],[16,0.12],[22,-0.05],[28,0.03],[34,-0.1],[40,0.05],[46,-0.03],[52,0.04],[58,-0.12],[64,0.05],[70,-0.02],[76,0.06],[82,-0.08],[88,0.02],[94,-0.05],[100,0.04],[106,-0.03],[112,0.05],[118,-0.06],[124,0.03],[130,-0.02],[136,0.06],[142,-0.05],[148,0.02],[154,-0.04],[160,0.05],[166,-0.02],[172,0.03],[178,-0.06],[184,0.05],[190,0.0],[196,0.04],[202,-0.03],[208,0.08],[214,-0.05],[220,0.05],[226,-0.08],[232,0.1],[238,-0.06],[244,0.08],[250,-0.1],[256,0.12],[262,-0.05],[268,0.06],[274,-0.12],[280,-0.15],[286,0.08],[292,-0.06],[298,0.1],[304,-0.08],[310,0.05],[316,-0.1],[322,0.12],[328,-0.3],[334,0.5],[340,-0.6],[346,0.6],[352,-0.6],[358,0.5],[364,-0.6],[370,0.3],[376,-0.2],[382,0.2],[388,-0.4],[394,0.2],[400,-0.1],[406,0.15],[412,-0.3],[418,0.1],[424,-0.2],[430,0.15],[436,-0.1],[442,-0.35],[448,0.1],[454,-0.6],[460,0.3],[466,-0.2],[472,0.4],[478,-0.6],[484,0.6],[490,-0.6],[496,0.7],[502,-0.7],[508,0.6],[514,-0.6],[520,0.5],[526,-0.3],[532,0.05],[540,-0.02],[548,0.03],[556,-0.02],[564,0.02],[572,-0.03],[580,0.02],[588,0.0],[596,0.03],[604,-0.02],[612,0.05],[620,0.0],[628,0.02],[636,-0.02],[644,0.0],[650,0.1],[654,0.27],[658,0.0],[664,-0.03],[672,0.0],[680,0.02],[690,-0.01],[700,0.02],[710,-0.02],[720,0.01],[730,0.0],[740,0.02],[750,-0.01],[760,0.01],[770,-0.02],[780,0.0],[788,0.05],[794,0.16],[798,-0.18],[804,0.02],[812,0.0],[820,-0.01],[830,0.01],[840,0.0],[850,-0.01],[860,0.01],[870,0.0],[880,-0.01],[890,0.01],[900,0.0],[910,0.02],[920,-0.01],[930,0.0],[940,0.01],[950,-0.02],[960,0.0],[970,0.01],[980,0.0],[990,-0.01],[1000,0.0]];
var dbz3 = [[0,-0.05],[8,0.08],[16,-0.03],[22,0.06],[28,-0.08],[34,0.04],[40,-0.05],[46,0.07],[52,-0.02],[58,0.05],[64,-0.06],[70,0.03],[76,-0.04],[82,0.06],[88,-0.03],[94,0.04],[100,-0.05],[106,0.06],[112,-0.02],[118,0.04],[124,-0.06],[130,0.05],[136,-0.03],[142,0.04],[148,-0.05],[154,0.06],[160,-0.02],[166,0.05],[172,-0.04],[178,0.03],[184,-0.06],[190,0.05],[196,-0.02],[202,0.06],[208,-0.1],[214,0.12],[220,-0.05],[226,0.1],[232,-0.12],[238,0.08],[244,-0.05],[250,0.1],[256,-0.15],[262,0.15],[268,-0.1],[274,0.12],[280,-0.05],[286,0.1],[292,-0.15],[298,0.12],[304,-0.1],[310,0.15],[316,-0.05],[322,0.1],[327,0.8],[332,-0.4],[337,0.9],[342,-0.9],[347,0.3],[352,0.8],[357,-0.8],[362,0.6],[367,-0.9],[372,0.4],[378,-0.2],[384,0.35],[390,-0.3],[396,0.25],[402,-0.35],[408,0.3],[414,-0.25],[420,0.35],[426,-0.3],[432,0.25],[438,-0.35],[444,0.3],[450,-0.4],[456,0.3],[462,-0.5],[468,0.8],[473,-0.6],[478,0.9],[483,-0.2],[488,-0.9],[493,0.7],[498,-0.5],[503,0.9],[508,-0.9],[513,0.4],[518,0.8],[523,-0.5],[528,0.2],[532,-0.05],[538,0.03],[546,-0.02],[554,0.02],[562,-0.03],[570,0.02],[578,0.0],[586,0.03],[594,-0.02],[602,0.02],[610,-0.03],[618,0.02],[626,0.0],[634,-0.02],[642,0.02],[648,0.05],[652,-0.1],[656,-0.33],[660,0.0],[668,0.02],[676,-0.01],[686,0.02],[696,-0.02],[706,0.01],[716,0.0],[726,-0.01],[736,0.02],[746,-0.01],[756,0.0],[766,0.01],[776,-0.02],[786,0.02],[792,0.1],[796,-0.05],[802,0.0],[810,0.01],[820,-0.01],[830,0.0],[840,0.01],[850,-0.01],[860,0.0],[870,0.01],[880,0.0],[890,-0.01],[900,0.01],[910,0.0],[920,-0.01],[930,0.01],[940,0.0],[950,-0.01],[960,0.0],[970,0.01],[980,0.0],[990,0.0],[1000,0.01]];
var absb3 = [[0,1.0],[6,1.3],[15,1.35],[25,1.3],[35,1.35],[45,1.3],[55,1.35],[62,1.3],[70,1.45],[80,1.5],[90,1.6],[100,1.7],[110,1.75],[120,1.65],[130,1.55],[140,1.5],[150,1.35],[160,1.25],[170,1.15],[180,1.1],[185,1.15],[195,1.35],[205,1.5],[215,1.6],[225,1.55],[235,1.65],[240,1.9],[245,1.75],[252,1.5],[260,1.65],[268,1.8],[276,1.6],[284,1.75],[292,1.55],[298,1.6],[304,2.0],[308,1.45],[314,1.8],[320,1.9],[326,1.6],[332,1.9],[338,1.3],[344,1.0],[350,1.8],[356,2.6],[362,2.3],[368,2.5],[374,2.7],[380,2.6],[386,1.6],[392,1.5],[400,1.4],[408,1.5],[416,1.2],[424,1.15],[430,1.1],[436,1.5],[442,1.8],[448,2.0],[454,2.2],[460,1.6],[466,1.4],[472,2.5],[478,2.8],[484,1.5],[490,2.0],[496,2.6],[502,3.0],[506,3.6],[510,4.2],[514,5.5],[518,4.0],[522,3.0],[526,4.8],[530,3.0],[534,1.2],[540,1.0],[550,1.1],[560,1.05],[570,1.0],[580,1.1],[590,1.2],[600,1.3],[606,1.1],[612,1.0],[620,1.05],[630,1.1],[640,1.2],[646,1.0],[654,1.05],[664,1.2],[672,1.0],[680,0.95],[690,1.0],[700,1.05],[710,1.0],[720,1.05],[728,1.1],[736,1.05],[750,1.0],[760,1.05],[770,1.1],[780,1.15],[788,1.3],[794,1.25],[800,1.0],[810,1.05],[820,1.0],[840,0.98],[860,1.0],[880,0.97],[900,1.0],[920,0.95],[940,0.98],[955,1.05],[965,0.98],[975,0.95],[990,1.0],[1000,1.0]];
var hodo3 = [[-1.86,-1.22],[-2.17,-0.86],[-2.37,-0.31],[-2.39,0.0],[-2.33,0.63],[-2.09,1.25],[-1.63,1.72],[-1.0,1.96],[-0.3,2.03],[0.33,1.91],[0.87,1.49],[1.26,1.02],[1.46,0.55],[1.48,0.08],[1.42,-0.23],[1.33,-0.44],[1.35,-0.49],[1.46,-0.47]];

// y ticks of each row
var rowTicks = [[-2.5, 0, 2.5], [-2, 0, 2], [-5, -2.5, 0], [-0.5, 0, 0.5], [0, 2, 4]];
var rowDecimals = [1, 0, 1, 1, 0];
var rowRange = [[-4, 4], [-2, 2], [-6.05, 1.5], [-0.5, 0.5], [0, 5]];
var xTicks = [0, 200, 400, 600, 800, 1000];
var hodoTicksX = [-2, -1, 0, 1, 2];
var hodoTicksY = [-2, 0, 2];

// ---- chart ----
var FONT = 'DejaVu Sans';
var C0 = '#1f77b4', C1 = '#ff7f0e', C2 = '#2ca02c', C3 = '#d62728';

var panels = [
    [[by1, bz1], [vy1, vz1, vay1, vaz1], [vx1, vax1], [dby1, dbz1], [absb1]],
    [[by2, bz2], [vy2, vz2, vay2, vaz2], [vx2, vax2], [dby2, dbz2], [absb2]],
    [[by3, bz3], [vy3, vz3, vay3, vaz3], [vx3, vax3], [dby3, dbz3], [absb3]]
];
var hodos = [hodo1, hodo2, hodo3];
var rowNames = [['By', 'Bz'], ['Vy', 'Vz', 'mVay', 'mVaz'], ['Vx', 'Vax'], ['dBy', 'dBz'], ['absB']];
var rowColors = [[C0, C1], [C0, C1, C2, C3], [C0, '#008000'], [C0, C1], [C0]];
var rowLabels = [
    '{i|B}[{i|B}{n|0}]',
    '{i|V}[{i|V}{s|a}{n|0}]',
    '{i|V}[{i|V}{s|a}{n|0}]',
    '{i|J}[{i|j}{n|0}]',
    '|{i|B}|[{i|B}{n|0}]'
];
var rowNameGap = [40, 26, 36, 36, 21];
var legendText = {
    By: '{i|B}{s|y}', Bz: '{i|B}{s|z}',
    Vy: '{i|V}{s|y}', Vz: '{i|V}{s|z}', mVay: '\u2212{i|V}{s|ay}', mVaz: '\u2212{i|V}{s|az}',
    Vx: '{i|V}{s|x}', Vax: '{i|V}{s|a, x}',
    dBy: '{i|dB}{s|y}{i|/dx}', dBz: '{i|dB}{s|z}{i|/dx}'
};

var RICH = {
    i: {fontStyle: 'italic', fontSize: 11.5, lineHeight: 16, fontFamily: FONT, color: '#000'},
    s: {fontStyle: 'italic', fontSize: 8, lineHeight: 8, verticalAlign: 'bottom', fontFamily: FONT, color: '#000'},
    n: {fontSize: 8, lineHeight: 8, verticalAlign: 'bottom', fontFamily: FONT, color: '#000'},
    u: {fontSize: 8, lineHeight: 8, verticalAlign: 'top', fontFamily: FONT, color: '#000'}
};

function fmt(d) {
    return function (v) { return (d ? Number(v).toFixed(d) : String(v)).replace('-', '\u2212'); };
}

var colLeft = [66.7, 291.7, 516.7];
var plotW = 214;
var rowTop = [33, 120.2, 207.4, 294.6, 381.8];
var rowH = 79;

var grids = [], xAxes = [], yAxes = [], series = [];
var axisText = {color: '#000', fontSize: 12, fontFamily: FONT};
var nameStyle = {fontSize: 11.5, lineHeight: 16, color: '#000', fontFamily: FONT, rich: RICH};

for (var r = 0; r < 5; r++) {
    for (var c = 0; c < 3; c++) {
        var gi = grids.length;
        grids.push({left: colLeft[c], top: rowTop[r], width: plotW, height: rowH,
            show: true, borderColor: '#000', borderWidth: 1, backgroundColor: 'transparent'});
        xAxes.push({
            type: 'value', gridIndex: gi, min: 0, max: 1000,
            axisLine: {show: true, onZero: false, lineStyle: {color: '#000'}},
            axisTick: {show: true, length: 4, lineStyle: {color: '#000'}, customValues: xTicks},
            axisLabel: Object.assign({show: r === 4, margin: 6, customValues: xTicks, formatter: fmt(0)}, axisText),
            splitLine: {show: false},
            name: r === 4 ? '{i|x}[{i|d}{s|p, u}]' : '',
            nameLocation: 'middle', nameGap: 23,
            nameTextStyle: nameStyle
        });
        yAxes.push({
            type: 'value', gridIndex: gi, min: rowRange[r][0], max: rowRange[r][1],
            axisLine: {show: true, onZero: false, lineStyle: {color: '#000'}},
            axisTick: {show: true, length: 4, lineStyle: {color: '#000'}, customValues: rowTicks[r]},
            axisLabel: Object.assign({show: c === 0, margin: 6, customValues: rowTicks[r],
                formatter: fmt(rowDecimals[r])}, axisText),
            splitLine: {show: false},
            name: c === 0 ? rowLabels[r] : '',
            nameLocation: 'middle', nameGap: rowNameGap[r],
            nameTextStyle: nameStyle
        });
        var sets = panels[c][r];
        for (var k = 0; k < sets.length; k++) {
            series.push({
                type: 'line', name: rowNames[r][k], xAxisIndex: gi, yAxisIndex: gi,
                data: sets[k], showSymbol: false, symbol: 'none', clip: true,
                color: rowColors[r][k],
                lineStyle: {width: 1.5, color: rowColors[r][k]},
                emphasis: {disabled: true}, z: 2
            });
        }
        // red dashed markers
        series.push({
            type: 'line', name: 'cut', xAxisIndex: gi, yAxisIndex: gi, data: [], z: 5,
            markLine: {
                silent: true, symbol: ['none', 'none'], animation: false,
                label: {show: false},
                lineStyle: {color: '#ff0000', type: [5.5, 2.4], width: 1.5},
                data: dashX[c].map(function (v) { return {xAxis: v}; })
            }
        });
    }
}

// bottom hodograms
for (var c2 = 0; c2 < 3; c2++) {
    var hg = grids.length;
    grids.push({left: colLeft[c2], top: 501.7, width: plotW, height: 106.5,
        show: true, borderColor: '#000', borderWidth: 1, backgroundColor: 'transparent'});
    xAxes.push({
        type: 'value', gridIndex: hg, min: -2.5, max: 2.5,
        axisLine: {show: true, onZero: false, lineStyle: {color: '#000'}},
        axisTick: {show: true, length: 4, lineStyle: {color: '#000'}, customValues: hodoTicksX},
        axisLabel: Object.assign({margin: 6, customValues: hodoTicksX, formatter: fmt(0)}, axisText),
        splitLine: {show: false},
        name: '{i|B}{s|y}[{i|B}{n|0}]', nameLocation: 'middle', nameGap: 22,
        nameTextStyle: nameStyle
    });
    yAxes.push({
        type: 'value', gridIndex: hg, min: -2.5, max: 2.5,
        axisLine: {show: true, onZero: false, lineStyle: {color: '#000'}},
        axisTick: {show: true, length: 4, lineStyle: {color: '#000'}, customValues: hodoTicksY},
        axisLabel: Object.assign({show: c2 === 0, margin: 6, customValues: hodoTicksY, formatter: fmt(0)}, axisText),
        splitLine: {show: false},
        name: c2 === 0 ? '{i|B}{s|z}[{i|B}{n|0}]' : '', nameLocation: 'middle', nameGap: 29,
        nameTextStyle: nameStyle
    });
    series.push({
        type: 'line', name: 'hodo', xAxisIndex: hg, yAxisIndex: hg, data: hodos[c2],
        showSymbol: false, symbol: 'none', smooth: 0.4, color: '#ff0000',
        lineStyle: {width: 1.5, color: '#ff0000'}
    });
}

function legendAt(names, top) {
    return {
        data: names, orient: 'vertical', left: 733, top: top,
        icon: 'rect', itemWidth: 25, itemHeight: 2, itemGap: 3,
        padding: [3, 6, 3, 4], borderColor: '#cccccc', borderWidth: 1, borderRadius: 3,
        backgroundColor: '#ffffff', selectedMode: false,
        formatter: function (n) { return legendText[n]; },
        textStyle: {fontSize: 11.5, lineHeight: 16, color: '#000', fontFamily: FONT, rich: RICH}
    };
}

var titles = [185, 409, 634].map(function (x, i) {
    return {
        text: '{i|t} = ' + timeLabels[i] + '\u03a9{u|\u22121}', left: x, top: 35, padding: 0,
        textStyle: {fontSize: 11.5, lineHeight: 16, fontWeight: 'normal', color: '#000', fontFamily: FONT, rich: RICH}
    };
});

var chart = echarts.init(document.getElementById('main'));
chart.setOption({
    animation: false,
    backgroundColor: '#fff',
    title: titles,
    legend: [
        legendAt(['By', 'Bz'], 32),
        legendAt(['Vy', 'Vz', 'mVay', 'mVaz'], 118),
        legendAt(['Vx', 'Vax'], 206),
        legendAt(['dBy', 'dBz'], 294)
    ],
    grid: grids,
    xAxis: xAxes,
    yAxis: yAxes,
    series: series
});
</script>
</body>
</html>
